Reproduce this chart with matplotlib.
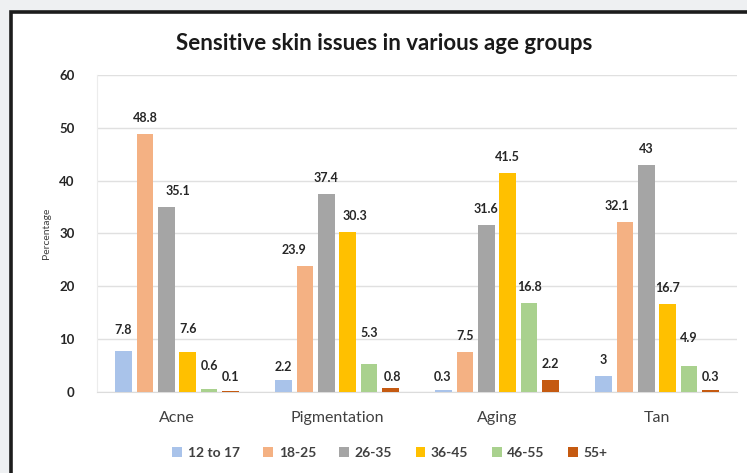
import matplotlib
matplotlib.use("Agg")
import matplotlib.pyplot as plt
from matplotlib.patches import Rectangle
import numpy as np

plt.rcParams['font.family'] = ['Lato', 'DejaVu Sans']

categories = ["Acne", "Pigmentation", "Aging", "Tan"]
age_groups = ["12 to 17", "18-25", "26-35", "36-45", "46-55", "55+"]
values = {
    "12 to 17": [7.8, 2.2, 0.3, 3],
    "18-25": [48.8, 23.9, 7.5, 32.1],
    "26-35": [35.1, 37.4, 31.6, 43],
    "36-45": [7.6, 30.3, 41.5, 16.7],
    "46-55": [0.6, 5.3, 16.8, 4.9],
    "55+": [0.1, 0.8, 2.2, 0.3],
}
colors = ["#a9c3ea", "#f4b183", "#a5a5a5", "#ffc000", "#a9d18e", "#c55a11"]
y_ticks = [0, 10, 20, 30, 40, 50, 60]

# per-label nudges (pixels) for labels placed away from the default spot
label_nudge = {
    (0, 0): (0, 5), (0, 2): (12, 0), (0, 3): (0, 7), (0, 4): (0, 7), (0, 5): (0, -2),
    (1, 0): (0, -3), (1, 1): (-11, 0), (1, 3): (7, 0), (1, 4): (0, 15), (1, 5): (2, -5),
    (2, 0): (-1, -3), (3, 1): (-8, 0), (3, 4): (0, 12), (3, 5): (0, -3),
}

W, H = 747, 473
fig = plt.figure(figsize=(W / 100, H / 100), dpi=100)
fig.patch.set_facecolor("#eef0f2")

# framed white panel behind the chart
fig.patches.append(Rectangle((11 / W, -0.05), 1.1, 1 - 12 / H + 0.05,
                             transform=fig.transFigure, facecolor="white",
                             edgecolor="#1c1c1c", linewidth=2.6, zorder=-5))

ax = fig.add_axes([97 / W, 1 - 392 / H, 640 / W, 317 / H])
ax.set_facecolor("none")

x = np.arange(len(categories))
step = 0.134
width = 0.104
n = len(age_groups)
for i, (grp, col) in enumerate(zip(age_groups, colors)):
    offs = (i - (n - 1) / 2) * step
    vals = values[grp]
    ax.bar(x + offs, vals, width=width, color=col, label=grp, zorder=3)
    for j, v in enumerate(vals):
        dx, dy = label_nudge.get((j, i), (0, 0))
        ax.annotate(f"{v:g}", (x[j] + offs, v), xytext=(dx, 16 + dy),
                    textcoords="offset pixels", ha="center", va="center",
                    fontsize=9, fontweight="bold", color="#262626", zorder=4)

ax.set_xlim(-0.5, len(categories) - 0.5)
ax.set_ylim(0, 60)
ax.set_yticks(y_ticks)
ax.set_yticklabels([str(t) for t in y_ticks], fontsize=9.5, fontweight="bold", color="#262626")
ax.set_xticks(x)
ax.set_xticklabels(categories, fontsize=11.5, color="#404040")
ax.tick_params(axis="both", length=0)
ax.tick_params(axis="x", pad=14)
ax.tick_params(axis="y", pad=16)
ax.grid(axis="y", color="#e0e0e0", linewidth=1, zorder=0)
for s in ["top", "right"]:
    ax.spines[s].set_visible(False)
ax.spines["left"].set_color("#ececec")
ax.spines["bottom"].set_color("#dcdcdc")
ax.set_ylabel("Percentage", fontsize=7.5, color="#404040", labelpad=6)

fig.text(384 / W, 1 - 43 / H, "Sensitive skin issues in various age groups",
         ha="center", va="center", fontsize=16, fontweight="bold", color="#1a1a1a")

leg = fig.legend(*ax.get_legend_handles_labels(), loc="center",
                 bbox_to_anchor=(390 / W, 1 - 453 / H), ncol=6, frameon=False,
                 prop={"size": 10, "weight": "bold"}, handlelength=0.7,
                 handleheight=0.7, handletextpad=0.4, columnspacing=1.7)
for t in leg.get_texts():
    t.set_color("#404040")

fig.savefig("out.png", dpi=100, facecolor=fig.get_facecolor())
